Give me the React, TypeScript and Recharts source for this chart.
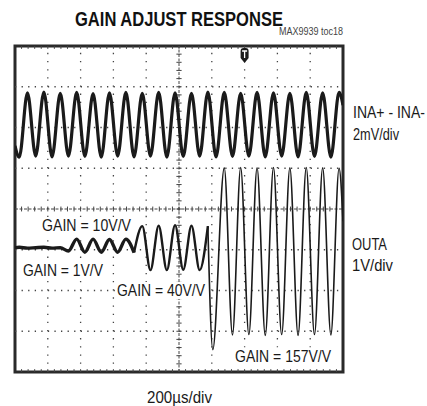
import React from "react";
import {
  LineChart,
  Line,
  XAxis,
  YAxis,
  ReferenceLine,
  ReferenceArea,
  ReferenceDot,
} from "recharts";

// time in divisions (200us/div), voltage in divisions from screen centre
const inaTime = [
  0, 0.13, 0.38, 0.63, 0.88, 1.13, 1.38, 1.63, 1.88, 2.13, 2.38, 2.63, 2.88,
  3.13, 3.38, 3.63, 3.88, 4.13, 4.38, 4.63, 4.88, 5.13, 5.38, 5.63, 5.88, 6.13,
  6.38, 6.63, 6.88, 7.13, 7.38, 7.63, 7.88, 8.13, 8.38, 8.63, 8.88, 9.13, 9.38,
  9.63, 9.88, 10,
];
const inaDiv = [
  1.55, 1.27, 2.85, 1.3, 2.87, 1.28, 2.84, 1.3, 2.86, 1.29, 2.83, 1.27, 2.85,
  1.3, 2.86, 1.28, 2.84, 1.3, 2.86, 1.27, 2.85, 1.29, 2.84, 1.3, 2.87, 1.28,
  2.86, 1.29, 2.84, 1.3, 2.86, 1.28, 2.85, 1.3, 2.84, 1.28, 2.86, 1.29, 2.85,
  1.27, 2.86, 2.55,
];

// OUTA, gain 1V/V then 10V/V
const lowGainTime = [
  0, 0.13, 0.38, 0.63, 0.88, 1.13, 1.38, 1.63, 1.88, 2.13, 2.38, 2.63, 2.88,
  3.13, 3.38, 3.63,
];
const lowGainDiv = [
  -0.95, -0.94, -0.96, -0.95, -0.94, -0.96, -0.95, -1.03, -0.74, -1.06, -0.74,
  -1.06, -0.75, -1.06, -0.74, -1.07,
];

// OUTA, gain 40V/V
const midGainTime = [3.63, 3.88, 4.13, 4.38, 4.63, 4.88, 5.13, 5.38, 5.63, 5.88];
const midGainDiv = [-1.07, -0.42, -1.5, -0.41, -1.5, -0.4, -1.49, -0.41, -1.5, -0.42];

// OUTA, gain 157V/V
const highGainTime = [
  5.88, 6.03, 6.38, 6.63, 6.88, 7.13, 7.38, 7.63, 7.88, 8.13, 8.38, 8.63, 8.88,
  9.13, 9.38, 9.63, 9.88, 10,
];
const highGainDiv = [
  -0.42, -3.45, 1.01, -3.09, 1.02, -3.08, 1.01, -3.1, 1.02, -3.08, 1.01, -3.1,
  1.02, -3.08, 1.01, -3.09, 1.0, -0.3,
];

const majorX = [1, 2, 3, 4, 6, 7, 8, 9];
const majorY = [-3, -2, -1, 1, 2, 3];
const minorX = Array.from({ length: 49 }, (_, i) => (i + 1) * 0.2);
const minorY = Array.from({ length: 39 }, (_, i) => -4 + (i + 1) * 0.2);

// label text, left x, right x, baseline, font size
const sideLabels: [string, number, number, number, number][] = [
  ["INA+ - INA-", 353, 425, 118, 16],
  ["2mV/div", 353, 399, 140, 16],
  ["OUTA", 352, 387, 250, 16],
  ["1V/div", 352, 393, 271, 16],
];
const gainLabels: [string, number, number, number, number][] = [
  ["GAIN = 10V/V", 42, 131, 231, 17],
  ["GAIN = 1V/V", 23, 103, 276, 17],
  ["GAIN = 40V/V", 117, 205, 296, 17],
  ["GAIN = 157V/V", 235, 331, 361.5, 17],
];

const zip = (t: number[], v: number[]) => t.map((x, i) => ({ t: x, v: v[i] }));

const FONT = '"Liberation Sans", Arial, sans-serif';
const INK = "#1a1a1a";

function TriggerMark({ cx, cy }: { cx?: number; cy?: number }) {
  if (cx == null || cy == null) return null;
  return (
    <g>
      <path
        d={`M${cx - 4},${cy + 5} a3,3 0 0 1 3,-3 h2 a3,3 0 0 1 3,3 v7 l-4,5 l-4,-5 z`}
        fill={INK}
      />
      <path d={`M${cx - 2.5},${cy + 5} h5 M${cx},${cy + 5} v7`} stroke="#fff" strokeWidth={1.3} />
    </g>
  );
}

function FitText({
  s, x0, x1, y, size, weight = 400, fill = INK,
}: { s: string; x0: number; x1: number; y: number; size: number; weight?: number; fill?: string }) {
  return (
    <text
      x={x0}
      y={y}
      textLength={x1 - x0}
      lengthAdjust="spacingAndGlyphs"
      fontSize={size}
      fontWeight={weight}
      fontFamily={FONT}
      fill={fill}
    >
      {s}
    </text>
  );
}

export default function App() {
  return (
    <div style={{ position: "absolute", left: 0, top: 0, width: 427, height: 406, background: "#fff" }}>
      <LineChart width={427} height={406} margin={{ top: 46, right: 84, bottom: 34, left: 15 }}>
        <XAxis type="number" dataKey="t" domain={[0, 10]} hide allowDataOverflow />
        <YAxis type="number" dataKey="v" domain={[-4, 4]} hide allowDataOverflow />
        {majorX.map((x) => (
          <ReferenceLine key={`gx${x}`} x={x} stroke="#444" strokeWidth={1.3} strokeDasharray="1.3 6.85" />
        ))}
        {majorY.map((y) => (
          <ReferenceLine key={`gy${y}`} y={y} stroke="#444" strokeWidth={1.3} strokeDasharray="1.3 5.27" />
        ))}
        <ReferenceLine x={5} stroke="#444" strokeDasharray="3 1.5" />
        <ReferenceLine y={0} stroke="#444" strokeDasharray="3 1.5" />
        {minorX.map((x) => (
          <ReferenceLine key={`mx${x}`} segment={[{ x, y: -0.06 }, { x, y: 0.06 }]} stroke="#444" />
        ))}
        {minorY.map((y) => (
          <ReferenceLine key={`my${y}`} segment={[{ x: 4.92, y }, { x: 5.08, y }]} stroke="#444" />
        ))}
        {minorX.map((x) => (
          <ReferenceLine key={`tx${x}`} segment={[{ x, y: 4 }, { x, y: 3.93 }]} stroke="#444" />
        ))}
        {minorX.map((x) => (
          <ReferenceLine key={`bx${x}`} segment={[{ x, y: -4 }, { x, y: -3.93 }]} stroke="#444" />
        ))}
        <Line
          data={zip(inaTime, inaDiv)}
          dataKey="v"
          type="monotone"
          stroke={INK}
          strokeWidth={3.2}
          dot={false}
          isAnimationActive={false}
        />
        <Line
          data={zip(lowGainTime, lowGainDiv)}
          dataKey="v"
          type="monotone"
          stroke={INK}
          strokeWidth={3.4}
          dot={false}
          isAnimationActive={false}
        />
        <Line
          data={zip(midGainTime, midGainDiv)}
          dataKey="v"
          type="monotone"
          stroke={INK}
          strokeWidth={2.4}
          dot={false}
          isAnimationActive={false}
        />
        <Line
          data={zip(highGainTime, highGainDiv)}
          dataKey="v"
          type="monotone"
          stroke={INK}
          strokeWidth={1.6}
          dot={false}
          isAnimationActive={false}
        />
        <ReferenceArea x1={0} x2={10} y1={-4} y2={4} fill="none" fillOpacity={0} stroke="#2a2a2a" strokeWidth={3} />
        <ReferenceDot x={7} y={4} r={0} shape={(p: any) => <TriggerMark cx={p.cx} cy={p.cy} />} />
      </LineChart>

      <svg
        width={427}
        height={406}
        style={{ position: "absolute", left: 0, top: 0, pointerEvents: "none" }}
      >
        <FitText s="GAIN ADJUST RESPONSE" x0={75} x1={283} y={25.5} size={20} weight={700} fill="#111" />
        <FitText s="MAX9939 toc18" x0={279} x1={343} y={34.5} size={11} fill="#444" />
        {sideLabels.map(([s, x0, x1, y, size]) => (
          <FitText key={s} s={s} x0={x0} x1={x1} y={y} size={size} />
        ))}
        {gainLabels.map(([s, x0, x1, y, size]) => (
          <g key={s}>
            <rect x={x0 - 2} y={y - 14} width={x1 - x0 + 4} height={17} fill="#fff" />
            <FitText s={s} x0={x0} x1={x1} y={y} size={size} />
          </g>
        ))}
        <FitText s={"200\u00b5s/div"} x0={147} x1={212} y={402.5} size={16.5} />
      </svg>
    </div>
  );
}
